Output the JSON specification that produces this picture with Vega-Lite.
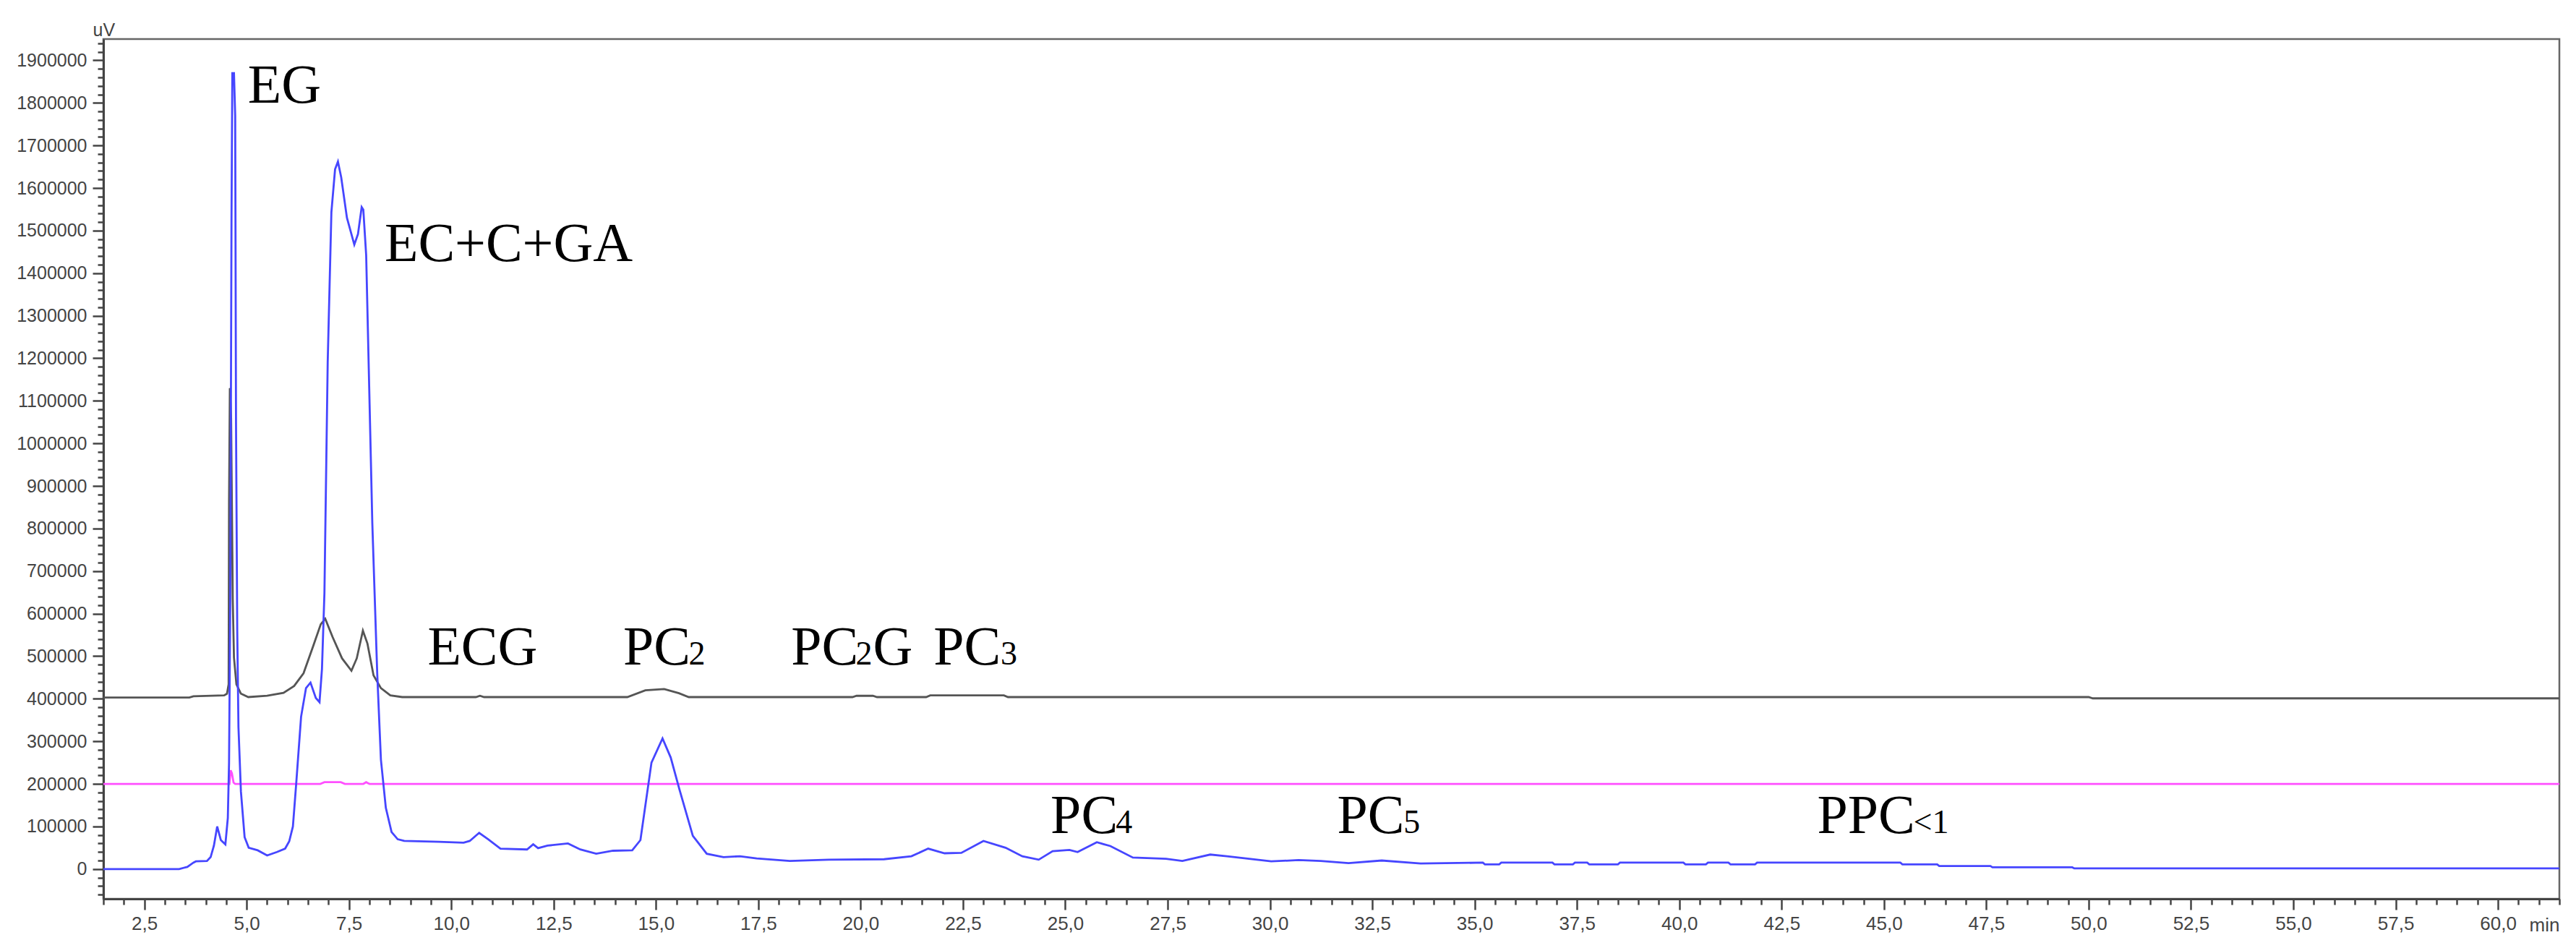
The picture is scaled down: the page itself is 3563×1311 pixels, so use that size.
{
"$schema": "https://vega.github.io/schema/vega-lite/v6.json",
"width": 3397, "height": 1189,
"autosize": {"type": "none"},
"padding": {"left": 143, "top": 54, "right": 23, "bottom": 68},
"background": "white",
"config": {"view": {"stroke": "#666666", "strokeWidth": 2.5}},
"datasets": {
"traces": [
{"s":"m","t":1.5,"v":200000},{"s":"m","t":4.58,"v":200000},{"s":"m","t":4.61,"v":232000},{"s":"m","t":4.64,"v":225000},{"s":"m","t":4.68,"v":203000},{"s":"m","t":4.72,"v":200000},{"s":"m","t":6.8,"v":200000},{"s":"m","t":6.9,"v":204000},{"s":"m","t":7.3,"v":204000},{"s":"m","t":7.4,"v":200000},{"s":"m","t":7.85,"v":200000},{"s":"m","t":7.92,"v":204000},{"s":"m","t":8.0,"v":200000},{"s":"m","t":61.5,"v":200000},
{"s":"g","t":1.5,"v":403000},{"s":"g","t":3.6,"v":403000},{"s":"g","t":3.7,"v":406000},{"s":"g","t":4.45,"v":408000},{"s":"g","t":4.52,"v":412000},{"s":"g","t":4.56,"v":434000},{"s":"g","t":4.57,"v":860000},{"s":"g","t":4.59,"v":1130000},{"s":"g","t":4.62,"v":1060000},{"s":"g","t":4.66,"v":635000},{"s":"g","t":4.69,"v":497000},{"s":"g","t":4.75,"v":434000},{"s":"g","t":4.86,"v":412000},{"s":"g","t":5.04,"v":404000},{"s":"g","t":5.5,"v":407000},{"s":"g","t":5.9,"v":414000},{"s":"g","t":6.16,"v":430000},{"s":"g","t":6.39,"v":460000},{"s":"g","t":6.63,"v":525000},{"s":"g","t":6.81,"v":575000},{"s":"g","t":6.92,"v":588000},{"s":"g","t":7.1,"v":545000},{"s":"g","t":7.33,"v":495000},{"s":"g","t":7.56,"v":466000},{"s":"g","t":7.69,"v":495000},{"s":"g","t":7.84,"v":560000},{"s":"g","t":7.95,"v":530000},{"s":"g","t":8.1,"v":455000},{"s":"g","t":8.28,"v":425000},{"s":"g","t":8.51,"v":408000},{"s":"g","t":8.8,"v":404000},{"s":"g","t":10.6,"v":404000},{"s":"g","t":10.7,"v":407000},{"s":"g","t":10.8,"v":404000},{"s":"g","t":14.3,"v":404000},{"s":"g","t":14.74,"v":420000},{"s":"g","t":15.2,"v":423000},{"s":"g","t":15.56,"v":413000},{"s":"g","t":15.8,"v":404000},{"s":"g","t":19.8,"v":404000},{"s":"g","t":19.9,"v":407000},{"s":"g","t":20.3,"v":407000},{"s":"g","t":20.4,"v":404000},{"s":"g","t":21.6,"v":404000},{"s":"g","t":21.7,"v":408000},{"s":"g","t":23.5,"v":408000},{"s":"g","t":23.6,"v":404000},{"s":"g","t":50.0,"v":404000},{"s":"g","t":50.1,"v":401000},{"s":"g","t":61.5,"v":401000},
{"s":"b","t":1.5,"v":0},{"s":"b","t":3.35,"v":0},{"s":"b","t":3.55,"v":5000},{"s":"b","t":3.7,"v":15000},{"s":"b","t":3.76,"v":18000},{"s":"b","t":4.03,"v":19000},{"s":"b","t":4.12,"v":28000},{"s":"b","t":4.2,"v":55000},{"s":"b","t":4.28,"v":100000},{"s":"b","t":4.37,"v":68000},{"s":"b","t":4.48,"v":58000},{"s":"b","t":4.54,"v":120000},{"s":"b","t":4.57,"v":250000},{"s":"b","t":4.6,"v":635000},{"s":"b","t":4.63,"v":1530000},{"s":"b","t":4.65,"v":1870000},{"s":"b","t":4.69,"v":1870000},{"s":"b","t":4.72,"v":1770000},{"s":"b","t":4.74,"v":1050000},{"s":"b","t":4.77,"v":560000},{"s":"b","t":4.8,"v":333000},{"s":"b","t":4.86,"v":182000},{"s":"b","t":4.95,"v":75000},{"s":"b","t":5.05,"v":50000},{"s":"b","t":5.27,"v":44000},{"s":"b","t":5.5,"v":32000},{"s":"b","t":5.74,"v":40000},{"s":"b","t":5.94,"v":48000},{"s":"b","t":6.04,"v":65000},{"s":"b","t":6.13,"v":100000},{"s":"b","t":6.21,"v":200000},{"s":"b","t":6.33,"v":358000},{"s":"b","t":6.45,"v":425000},{"s":"b","t":6.56,"v":438000},{"s":"b","t":6.69,"v":402000},{"s":"b","t":6.78,"v":392000},{"s":"b","t":6.84,"v":470000},{"s":"b","t":6.9,"v":648000},{"s":"b","t":6.98,"v":1190000},{"s":"b","t":7.07,"v":1543000},{"s":"b","t":7.16,"v":1644000},{"s":"b","t":7.23,"v":1662000},{"s":"b","t":7.31,"v":1625000},{"s":"b","t":7.45,"v":1530000},{"s":"b","t":7.63,"v":1467000},{"s":"b","t":7.72,"v":1492000},{"s":"b","t":7.81,"v":1555000},{"s":"b","t":7.85,"v":1549000},{"s":"b","t":7.92,"v":1442000},{"s":"b","t":7.98,"v":1190000},{"s":"b","t":8.07,"v":812000},{"s":"b","t":8.19,"v":459000},{"s":"b","t":8.28,"v":257000},{"s":"b","t":8.4,"v":144000},{"s":"b","t":8.54,"v":87000},{"s":"b","t":8.69,"v":70000},{"s":"b","t":8.85,"v":66000},{"s":"b","t":9.7,"v":64000},{"s":"b","t":10.3,"v":62000},{"s":"b","t":10.45,"v":66000},{"s":"b","t":10.68,"v":85000},{"s":"b","t":10.9,"v":70000},{"s":"b","t":11.2,"v":48000},{"s":"b","t":11.85,"v":46000},{"s":"b","t":12.0,"v":58000},{"s":"b","t":12.12,"v":49000},{"s":"b","t":12.35,"v":55000},{"s":"b","t":12.85,"v":60000},{"s":"b","t":13.15,"v":46000},{"s":"b","t":13.54,"v":36000},{"s":"b","t":13.95,"v":43000},{"s":"b","t":14.42,"v":44000},{"s":"b","t":14.62,"v":68000},{"s":"b","t":14.89,"v":250000},{"s":"b","t":15.16,"v":307000},{"s":"b","t":15.36,"v":262000},{"s":"b","t":15.57,"v":188000},{"s":"b","t":15.9,"v":78000},{"s":"b","t":16.24,"v":36000},{"s":"b","t":16.65,"v":28000},{"s":"b","t":17.05,"v":30000},{"s":"b","t":17.46,"v":25000},{"s":"b","t":18.27,"v":19000},{"s":"b","t":19.22,"v":22000},{"s":"b","t":20.57,"v":23000},{"s":"b","t":21.24,"v":30000},{"s":"b","t":21.65,"v":48000},{"s":"b","t":22.05,"v":37000},{"s":"b","t":22.46,"v":38000},{"s":"b","t":23.0,"v":66000},{"s":"b","t":23.54,"v":50000},{"s":"b","t":23.95,"v":30000},{"s":"b","t":24.35,"v":22000},{"s":"b","t":24.69,"v":42000},{"s":"b","t":25.1,"v":45000},{"s":"b","t":25.3,"v":40000},{"s":"b","t":25.77,"v":63000},{"s":"b","t":26.1,"v":54000},{"s":"b","t":26.65,"v":27000},{"s":"b","t":27.46,"v":24000},{"s":"b","t":27.86,"v":19000},{"s":"b","t":28.54,"v":34000},{"s":"b","t":28.95,"v":30000},{"s":"b","t":30.03,"v":18000},{"s":"b","t":30.7,"v":21000},{"s":"b","t":31.24,"v":19000},{"s":"b","t":31.92,"v":14000},{"s":"b","t":32.73,"v":20000},{"s":"b","t":33.68,"v":13000},{"s":"b","t":35.2,"v":15000},{"s":"b","t":35.25,"v":11000},{"s":"b","t":35.6,"v":11000},{"s":"b","t":35.65,"v":15000},{"s":"b","t":36.9,"v":15000},{"s":"b","t":36.95,"v":11000},{"s":"b","t":37.4,"v":11000},{"s":"b","t":37.45,"v":15000},{"s":"b","t":37.75,"v":15000},{"s":"b","t":37.8,"v":11000},{"s":"b","t":38.5,"v":11000},{"s":"b","t":38.55,"v":15000},{"s":"b","t":40.1,"v":15000},{"s":"b","t":40.15,"v":11000},{"s":"b","t":40.65,"v":11000},{"s":"b","t":40.7,"v":15000},{"s":"b","t":41.2,"v":15000},{"s":"b","t":41.25,"v":11000},{"s":"b","t":41.85,"v":11000},{"s":"b","t":41.9,"v":15000},{"s":"b","t":45.4,"v":15000},{"s":"b","t":45.45,"v":11000},{"s":"b","t":46.3,"v":11000},{"s":"b","t":46.35,"v":7000},{"s":"b","t":47.6,"v":7000},{"s":"b","t":47.65,"v":4000},{"s":"b","t":49.6,"v":4000},{"s":"b","t":49.65,"v":1500},{"s":"b","t":61.5,"v":1500}
],
"labels": [
{"k":"m","txt":"EG","t":5.03,"v":1800000},
{"k":"m","txt":"EC+C+GA","t":8.37,"v":1429000},
{"k":"m","txt":"ECG","t":9.42,"v":481000},
{"k":"m","txt":"PC","t":14.2,"v":481000},
{"k":"m","txt":"PC","t":18.3,"v":481000},
{"k":"m","txt":"G","t":20.3,"v":481000},
{"k":"m","txt":"PC","t":21.78,"v":481000},
{"k":"m","txt":"PC","t":24.64,"v":85000},
{"k":"m","txt":"PC","t":31.64,"v":85000},
{"k":"m","txt":"PPC","t":43.37,"v":85000},
{"k":"s","txt":"2","t":15.8,"v":481000},
{"k":"s","txt":"2","t":19.88,"v":481000},
{"k":"s","txt":"3","t":23.42,"v":481000},
{"k":"s","txt":"4","t":26.23,"v":85000},
{"k":"s","txt":"5","t":33.26,"v":85000},
{"k":"s","txt":"<1","t":45.72,"v":85000}
]
},
"layer": [
{
"data": {"name": "traces"},
"mark": {"type": "line", "strokeWidth": 2.8, "clip": true},
"encoding": {
"x": {"field": "t", "type": "quantitative",
 "scale": {"domain": [1.5, 61.5], "nice": false, "zero": false},
 "axis": {"tickCount": 120, "grid": false,
  "labelExpr": "abs(datum.value/2.5 - round(datum.value/2.5)) < 0.001 ? replace(format(datum.value, '.1f'), '.', ',') : ''",
  "labelOverlap": false, "labelFlush": false, "labelBound": false,
  "tickSize": {"condition": {"test": "abs(datum.value/2.5 - round(datum.value/2.5)) < 0.001", "value": 15}, "value": 8},
  "tickWidth": 2.5, "tickColor": "#444444", "domainColor": "#444444", "domainWidth": 3,
  "labelFont": "Liberation Sans", "labelFontSize": 26, "labelColor": "#444444", "labelPadding": 6,
  "title": "min", "titleX": 3397, "titleY": 44, "titleAlign": "right", "titleAnchor": "end", "titleBaseline": "alphabetic",
  "titleFont": "Liberation Sans", "titleFontSize": 26, "titleFontWeight": "normal", "titleColor": "#444444"}},
"y": {"field": "v", "type": "quantitative",
 "scale": {"domain": [-70000, 1950000], "nice": false, "zero": false},
 "axis": {"tickCount": 101, "grid": false,
  "labelExpr": "datum.value >= 0 && abs(datum.value/100000 - round(datum.value/100000)) < 0.001 ? format(datum.value, 'd') : ''",
  "labelOverlap": false, "labelFlush": false, "labelBound": false,
  "tickSize": {"condition": {"test": "abs(datum.value/100000 - round(datum.value/100000)) < 0.001", "value": 15}, "value": 8},
  "tickWidth": 2.5, "tickColor": "#444444", "domainColor": "#444444", "domainWidth": 3,
  "labelFont": "Liberation Sans", "labelFontSize": 25, "labelColor": "#444444", "labelPadding": 8,
  "title": "uV", "titleAngle": 0, "titleX": -15, "titleY": -5, "titleAlign": "left", "titleBaseline": "alphabetic",
  "titleFont": "Liberation Sans", "titleFontSize": 25, "titleFontWeight": "normal", "titleColor": "#444444"}},
"color": {"field": "s", "type": "nominal", "scale": {"domain": ["m", "g", "b"], "range": ["#ff50ff", "#555555", "#4646ff"]}, "legend": null}
}
},
{
"data": {"name": "labels"},
"transform": [{"filter": "datum.k == 'm'"}],
"mark": {"type": "text", "font": "Liberation Serif", "fontSize": 76, "align": "left", "baseline": "alphabetic", "color": "#000000"},
"encoding": {"x": {"field": "t", "type": "quantitative"}, "y": {"field": "v", "type": "quantitative"}, "text": {"field": "txt"}}
},
{
"data": {"name": "labels"},
"transform": [{"filter": "datum.k == 's'"}],
"mark": {"type": "text", "font": "Liberation Serif", "fontSize": 46, "align": "left", "baseline": "alphabetic", "color": "#000000"},
"encoding": {"x": {"field": "t", "type": "quantitative"}, "y": {"field": "v", "type": "quantitative"}, "text": {"field": "txt"}}
}
]
}
